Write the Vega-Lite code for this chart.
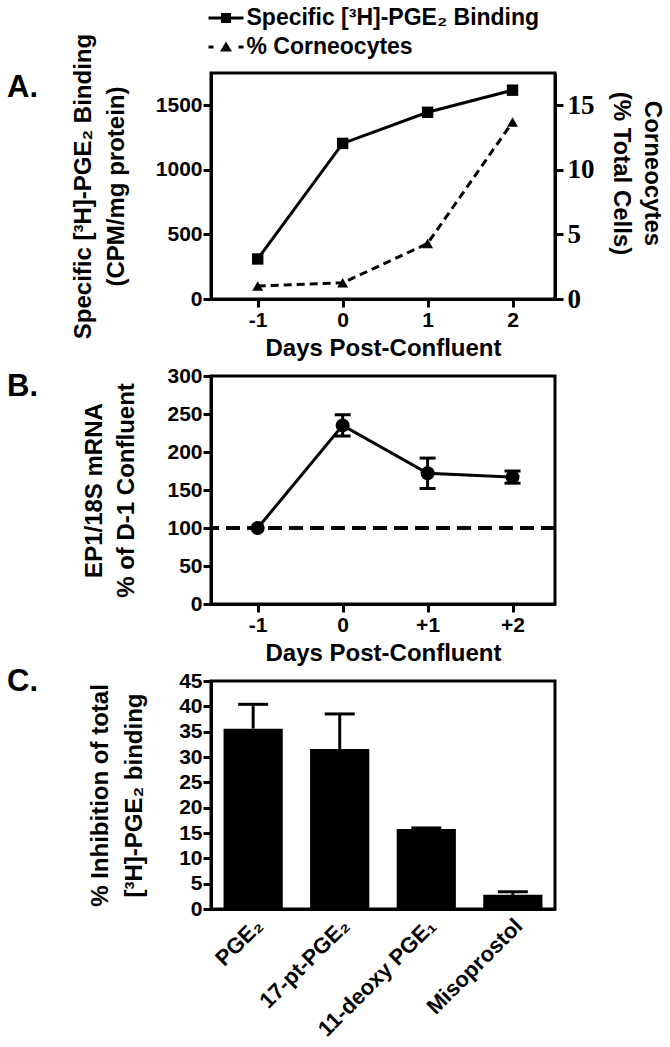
{
  "$schema": "https://vega.github.io/schema/vega-lite/v6.json",
  "background": "white",
  "padding": {"left": 5, "top": 5, "right": 0, "bottom": 0},
  "bounds": "flush",
  "spacing": 77,
  "config": {
    "font": "Liberation Sans",
    "view": {"stroke": "black", "strokeWidth": 3},
    "axis": {
      "domainColor": "black", "domainWidth": 3, "tickColor": "black", "tickWidth": 3, "tickSize": 8,
      "labelFont": "Liberation Sans", "labelFontWeight": "bold", "labelFontSize": 21, "labelColor": "black", "labelPadding": 2,
      "labelOverlap": false, "labelFlush": false,
      "titleFont": "Liberation Sans", "titleFontWeight": "bold", "titleFontSize": 24, "titleColor": "black", "grid": false
    },
    "legend": {
      "orient": "none", "direction": "vertical", "padding": 0, "symbolSize": 625, "labelOffset": 8,
      "labelFont": "Liberation Sans", "labelFontWeight": "bold", "labelFontSize": 23, "labelColor": "black",
      "labelBaseline": "middle", "labelLimit": 500, "symbolStrokeWidth": 0, "symbolFillColor": "black"
    },
    "title": {"font": "Liberation Sans", "fontWeight": "bold", "fontSize": 31, "color": "black", "anchor": "start", "frame": "group", "baseline": "alphabetic", "offset": 0}
  },
  "vconcat": [
    {
      "title": {"text": "A.", "dx": -204, "dy": 75},
      "width": 344,
      "height": 226,
      "data": {"values": [
        {"day": -1, "binding": 310, "corneo": 1.0},
        {"day": 0, "binding": 1205, "corneo": 1.25},
        {"day": 1, "binding": 1446, "corneo": 4.3},
        {"day": 2, "binding": 1617, "corneo": 13.7}
      ]},
      "encoding": {
        "x": {"field": "day", "type": "quantitative", "scale": {"domain": [-1.55, 2.5], "nice": false, "zero": false},
          "axis": {"values": [-1, 0, 1, 2], "labelExpr": "datum.value < 0 ? '-' + (-datum.value) : '' + datum.value", "title": "Days Post-Confluent", "titlePadding": 6, "labelPadding": 2}}
      },
      "layer": [
        {
          "encoding": {
            "y": {"field": "binding", "type": "quantitative", "scale": {"domain": [0, 1750], "nice": false},
              "axis": {"orient": "left", "values": [0, 500, 1000, 1500], "format": "d", "title": ["Specific [³H]-PGE₂ Binding", "(CPM/mg protein)"], "titlePadding": 27, "titleLineHeight": 33, "labelPadding": 1}}
          },
          "layer": [
            {"mark": {"type": "line", "strokeWidth": 3, "color": "black"}},
            {
              "mark": {"type": "point", "shape": "square", "filled": true, "size": 130, "opacity": 1},
              "encoding": {
                "color": {
                  "datum": "Specific [³H]-PGE₂ Binding", "type": "nominal",
                  "scale": {"range": ["black"]},
                  "legend": {"title": null, "legendX": 2.5, "legendY": -67.5,
                    "symbolType": "M-1.4,-0.12H1.4V0.12H-1.4Z M-0.4,-0.4H0.4V0.4H-0.4Z"}
                }
              }
            }
          ]
        },
        {
          "encoding": {
            "y": {"field": "corneo", "type": "quantitative", "scale": {"domain": [0, 17.5], "nice": false},
              "axis": {"orient": "right", "values": [0, 5, 10, 15], "labelFont": "Liberation Serif", "labelFontSize": 27, "labelPadding": 4,
                "title": ["Corneocytes", "(% Total Cells)"], "titlePadding": 14, "titleLineHeight": 31, "titleY": 100}}
          },
          "layer": [
            {"mark": {"type": "line", "strokeWidth": 3, "strokeDash": [8, 5], "color": "black"}},
            {
              "mark": {"type": "point", "shape": "triangle-up", "filled": true, "color": "black", "size": 120},
              "encoding": {
                "opacity": {
                  "datum": "% Corneocytes", "type": "nominal",
                  "scale": {"range": [1]},
                  "legend": {"title": null, "legendX": 2.5, "legendY": -38.5,
                    "symbolType": "M-1.4,-0.12H-1V0.12H-1.4Z M1,-0.12H1.4V0.12H1Z M-0.48,0.36L0,-0.45L0.48,0.36Z"}
                }
              }
            }
          ]
        }
      ],
      "resolve": {"scale": {"y": "independent"}}
    },
    {
      "title": {"text": "B.", "dx": -204, "dy": 42},
      "width": 344,
      "height": 228,
      "data": {"values": [
        {"day": -1, "mean": 100},
        {"day": 0, "mean": 235},
        {"day": 1, "mean": 172},
        {"day": 2, "mean": 167}
      ]},
      "layer": [
        {
          "mark": {"type": "rule", "strokeWidth": 3, "strokeDash": [14, 7], "color": "black"},
          "encoding": {
            "y": {"datum": 100, "type": "quantitative", "scale": {"domain": [0, 300], "nice": false},
              "axis": {"values": [0, 50, 100, 150, 200, 250, 300], "title": ["EP1/18S mRNA", "% of D-1 Confluent"], "titlePadding": 28, "titleLineHeight": 32, "labelPadding": 1}}
          }
        },
        {
          "data": {"values": [
            {"day": 0, "lo": 221, "hi": 249},
            {"day": 1, "lo": 152, "hi": 192},
            {"day": 2, "lo": 159, "hi": 175}
          ]},
          "layer": [
            {
              "mark": {"type": "rule", "strokeWidth": 3, "color": "black"},
              "encoding": {
                "x": {"field": "day", "type": "quantitative", "scale": {"domain": [-1.55, 2.5], "nice": false, "zero": false},
                  "axis": {"values": [-1, 0, 1, 2], "labelExpr": "datum.value < 0 ? '-' + (-datum.value) : datum.value > 0 ? '+' + datum.value : '0'", "title": "Days Post-Confluent", "titlePadding": 6, "labelPadding": 2}},
                "y": {"field": "lo", "type": "quantitative", "scale": {"domain": [0, 300], "nice": false},
                  "axis": {"values": [0, 50, 100, 150, 200, 250, 300], "title": ["EP1/18S mRNA", "% of D-1 Confluent"], "titlePadding": 28, "titleLineHeight": 32, "labelPadding": 1}},
                "y2": {"field": "hi"}
              }
            },
            {
              "mark": {"type": "tick", "orient": "horizontal", "size": 16, "thickness": 3, "color": "black", "opacity": 1},
              "encoding": {
                "x": {"field": "day", "type": "quantitative", "scale": {"domain": [-1.55, 2.5], "nice": false, "zero": false},
                  "axis": {"values": [-1, 0, 1, 2], "labelExpr": "datum.value < 0 ? '-' + (-datum.value) : datum.value > 0 ? '+' + datum.value : '0'", "title": "Days Post-Confluent", "titlePadding": 6, "labelPadding": 2}},
                "y": {"field": "lo", "type": "quantitative", "scale": {"domain": [0, 300], "nice": false},
                  "axis": {"values": [0, 50, 100, 150, 200, 250, 300], "title": ["EP1/18S mRNA", "% of D-1 Confluent"], "titlePadding": 28, "titleLineHeight": 32, "labelPadding": 1}}
              }
            },
            {
              "mark": {"type": "tick", "orient": "horizontal", "size": 16, "thickness": 3, "color": "black", "opacity": 1},
              "encoding": {
                "x": {"field": "day", "type": "quantitative", "scale": {"domain": [-1.55, 2.5], "nice": false, "zero": false},
                  "axis": {"values": [-1, 0, 1, 2], "labelExpr": "datum.value < 0 ? '-' + (-datum.value) : datum.value > 0 ? '+' + datum.value : '0'", "title": "Days Post-Confluent", "titlePadding": 6, "labelPadding": 2}},
                "y": {"field": "hi", "type": "quantitative", "scale": {"domain": [0, 300], "nice": false},
                  "axis": {"values": [0, 50, 100, 150, 200, 250, 300], "title": ["EP1/18S mRNA", "% of D-1 Confluent"], "titlePadding": 28, "titleLineHeight": 32, "labelPadding": 1}}
              }
            }
          ]
        },
        {
          "mark": {"type": "line", "strokeWidth": 3, "color": "black"},
          "encoding": {
            "x": {"field": "day", "type": "quantitative", "scale": {"domain": [-1.55, 2.5], "nice": false, "zero": false},
              "axis": {"values": [-1, 0, 1, 2], "labelExpr": "datum.value < 0 ? '-' + (-datum.value) : datum.value > 0 ? '+' + datum.value : '0'", "title": "Days Post-Confluent", "titlePadding": 6, "labelPadding": 2}},
            "y": {"field": "mean", "type": "quantitative", "scale": {"domain": [0, 300], "nice": false},
              "axis": {"values": [0, 50, 100, 150, 200, 250, 300], "title": ["EP1/18S mRNA", "% of D-1 Confluent"], "titlePadding": 28, "titleLineHeight": 32, "labelPadding": 1}}
          }
        },
        {
          "mark": {"type": "point", "shape": "circle", "filled": true, "color": "black", "size": 196, "opacity": 1},
          "encoding": {
            "x": {"field": "day", "type": "quantitative", "scale": {"domain": [-1.55, 2.5], "nice": false, "zero": false},
              "axis": {"values": [-1, 0, 1, 2], "labelExpr": "datum.value < 0 ? '-' + (-datum.value) : datum.value > 0 ? '+' + datum.value : '0'", "title": "Days Post-Confluent", "titlePadding": 6, "labelPadding": 2}},
            "y": {"field": "mean", "type": "quantitative", "scale": {"domain": [0, 300], "nice": false},
              "axis": {"values": [0, 50, 100, 150, 200, 250, 300], "title": ["EP1/18S mRNA", "% of D-1 Confluent"], "titlePadding": 28, "titleLineHeight": 32, "labelPadding": 1}}
          }
        }
      ]
    },
    {
      "title": {"text": "C.", "dx": -204, "dy": 32},
      "width": 344,
      "height": 228,
      "data": {"values": [
        {"drug": "PGE₂", "value": 35.6, "upper": 40.4},
        {"drug": "17-pt-PGE₂", "value": 31.6, "upper": 38.5},
        {"drug": "11-deoxy PGE₁", "value": 15.8, "upper": 16.0},
        {"drug": "Misoprostol", "value": 2.8, "upper": 3.4}
      ]},
      "encoding": {
        "x": {"field": "drug", "type": "nominal", "sort": null, "scale": {"paddingInner": 0.316, "paddingOuter": 0.145},
          "axis": {"title": null, "labelAngle": -45, "labelAlign": "right", "labelBaseline": "middle", "ticks": false, "labelPadding": 13, "labelOffset": 6, "labelFontSize": 22, "labelLimit": 300}}
      },
      "layer": [
        {
          "mark": {"type": "bar", "color": "black"},
          "encoding": {
            "y": {"field": "value", "type": "quantitative", "scale": {"domain": [0, 45], "nice": false},
              "axis": {"values": [0, 5, 10, 15, 20, 25, 30, 35, 40, 45], "title": ["% Inhibition of total", "[³H]-PGE₂ binding"], "titlePadding": 32, "titleLineHeight": 34, "labelPadding": 1}}
          }
        },
        {
          "mark": {"type": "rule", "strokeWidth": 3, "color": "black"},
          "encoding": {
            "y": {"field": "value", "type": "quantitative", "scale": {"domain": [0, 45], "nice": false},
              "axis": {"values": [0, 5, 10, 15, 20, 25, 30, 35, 40, 45], "title": ["% Inhibition of total", "[³H]-PGE₂ binding"], "titlePadding": 32, "titleLineHeight": 34, "labelPadding": 1}},
            "y2": {"field": "upper"}
          }
        },
        {
          "mark": {"type": "tick", "orient": "horizontal", "size": 30, "thickness": 3, "color": "black", "opacity": 1},
          "encoding": {
            "y": {"field": "upper", "type": "quantitative", "scale": {"domain": [0, 45], "nice": false},
              "axis": {"values": [0, 5, 10, 15, 20, 25, 30, 35, 40, 45], "title": ["% Inhibition of total", "[³H]-PGE₂ binding"], "titlePadding": 32, "titleLineHeight": 34, "labelPadding": 1}}
          }
        }
      ]
    }
  ]
}
